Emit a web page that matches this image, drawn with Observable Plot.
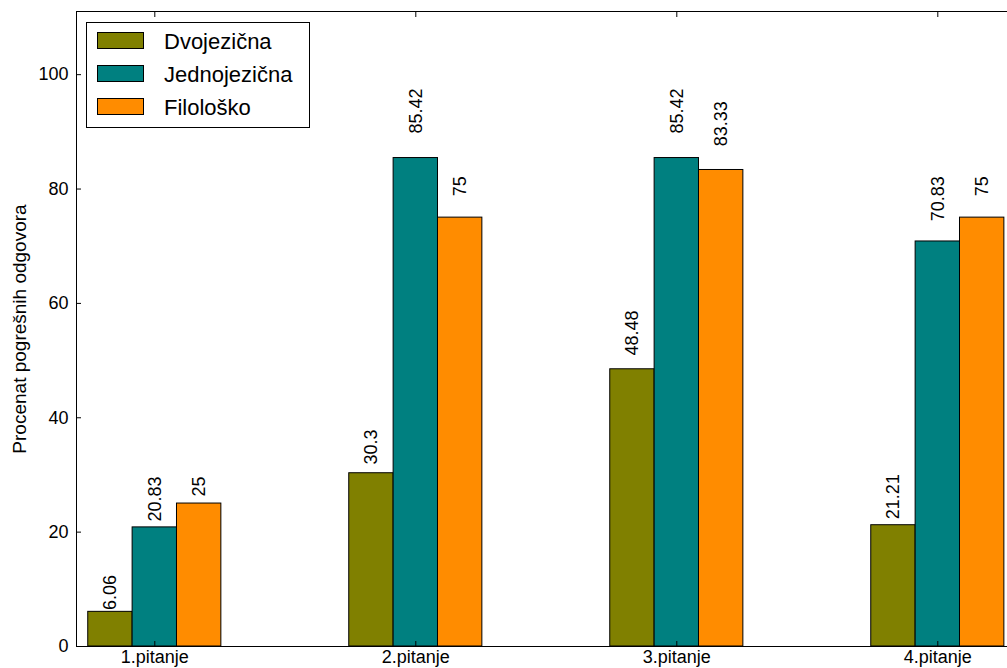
<!DOCTYPE html>
<html><head><meta charset="utf-8">
<script src="https://cdn.jsdelivr.net/npm/d3@7"></script>
<script src="https://cdn.jsdelivr.net/npm/@observablehq/plot@0.6"></script>
<style>
body{margin:0;background:#fff;font-family:"Liberation Sans",Arial,sans-serif;}
#wrap{position:relative;width:1007px;height:668px;overflow:hidden;}
#legend{position:absolute;left:86px;top:22px;width:222px;height:104px;border:1px solid #000;background:#fff;}
.row{position:absolute;left:10px;height:17px;}
.sw{position:absolute;left:0;top:0;width:45px;height:15px;border:1px solid #000;}
.lt{position:absolute;left:67px;top:-1px;font-size:22px;line-height:22px;white-space:nowrap;color:#000;}
</style></head>
<body><div id="wrap"><div id="chart"></div><div id="legend"></div></div>
<script>
const categories = ["1.pitanje", "2.pitanje", "3.pitanje", "4.pitanje"];
const series = ["Dvojezična", "Jednojezična", "Filološko"];
const colors = ["#808000", "#008080", "#FF8C00"];
const dvojezicna = [6.06, 30.3, 48.48, 21.21];
const jednojezicna = [20.83, 85.42, 85.42, 70.83];
const filolosko = [25, 75, 83.33, 75];
const yTicks = [0, 20, 40, 60, 80, 100];
const yLabel = "Procenat pogrešnih odgovora";

const values = [dvojezicna, jednojezicna, filolosko];
const w = 0.17;
const data = [];
values.forEach((arr, s) => arr.forEach((v, i) => {
  const x1 = i + (s - 1.5) * w;
  data.push({cat: i, s, v, x1, x2: x1 + w, xc: x1 + w / 2, label: String(v)});
}));
const yMax = Math.max(...data.map(d => d.v)) * 1.3;

const chart = Plot.plot({
  width: 1007, height: 668,
  marginLeft: 76, marginRight: 0, marginTop: 11, marginBottom: 22,
  style: {fontFamily: '"Liberation Sans", Arial, sans-serif', fontSize: "18px", color: "#000", background: "#fff", overflow: "hidden"},
  x: {type: "linear", domain: [-0.3, 3.267]},
  y: {type: "linear", domain: [0, yMax]},
  marks: [
    Plot.rect(data, {x1: "x1", x2: "x2", y1: 0, y2: "v", fill: d => colors[d.s], stroke: "#000", strokeWidth: 1}),
    Plot.text(data, {x: "xc", y: d => d.v * 1.05, text: "label", rotate: -90, textAnchor: "start", lineAnchor: "middle", fontSize: 18, fill: "#000"}),
    Plot.frame({stroke: "#000", strokeWidth: 1}),
    Plot.axisY({ticks: yTicks, tickSize: -5, tickFormat: null, text: null, label: null}),
    Plot.axisY({ticks: yTicks, tickSize: 0, tickPadding: 8, fontSize: 18, label: null}),
    Plot.axisX({anchor: "bottom", ticks: [0, 1, 2, 3], tickSize: -5, text: null, label: null}),
    Plot.axisX({anchor: "bottom", ticks: [0, 1, 2, 3], tickSize: 0, tickPadding: 4, tickFormat: i => categories[i], fontSize: 18, lineAnchor: "top", label: null}),
    Plot.axisX({anchor: "top", ticks: [0, 1, 2, 3], tickSize: -5, text: null, label: null}),
    Plot.text([yLabel], {x: -0.3, y: yMax / 2, text: d => d, rotate: -90, dx: -57, fontSize: 19, fill: "#000"})
  ]
});
document.getElementById("chart").appendChild(chart);

const lg = document.getElementById("legend");
series.forEach((name, s) => {
  const r = document.createElement("div");
  r.className = "row";
  r.style.top = (9 + s * 33) + "px";
  r.innerHTML = `<div class="sw" style="background:${colors[s]}"></div><div class="lt">${name}</div>`;
  lg.appendChild(r);
});
</script></body></html>
